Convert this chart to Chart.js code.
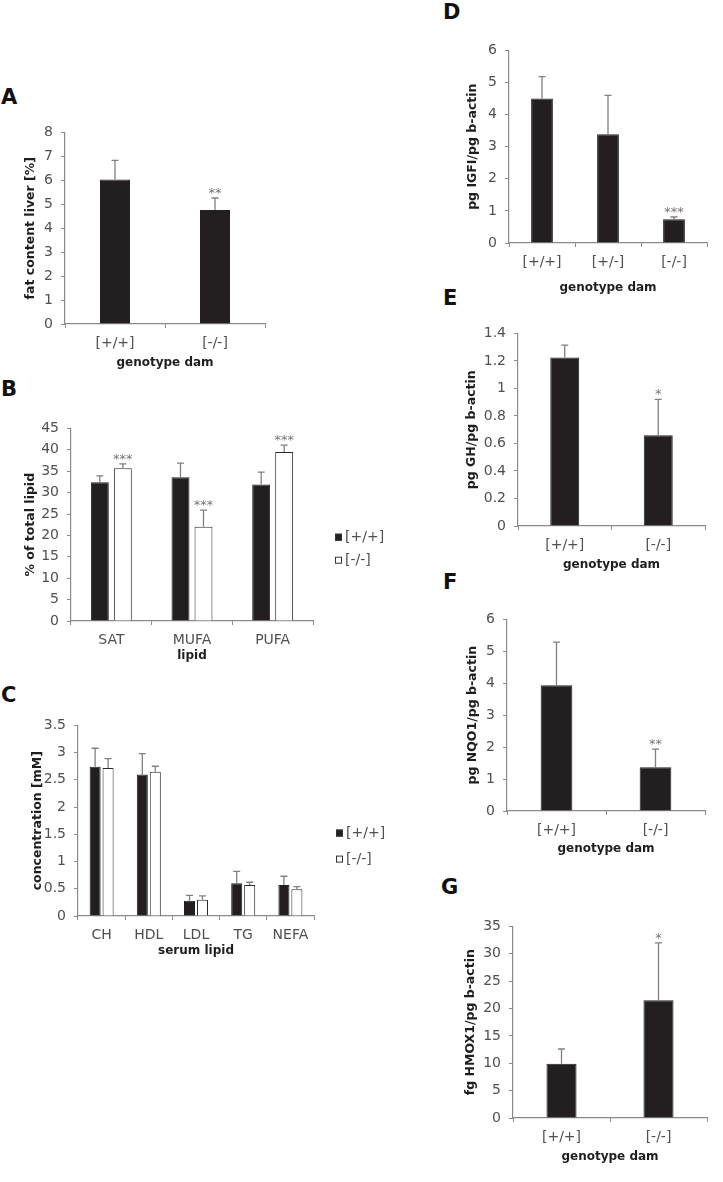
<!DOCTYPE html>
<html>
<head>
<meta charset="utf-8">
<title>Figure</title>
<script src="https://cdn.jsdelivr.net/npm/chart.js@4.4.1/dist/chart.umd.min.js"></script>
<style>
  body { margin: 0; background: #fff; width: 723px; height: 1182px; position: relative; overflow: hidden; }
  canvas { position: absolute; }
  .tag { position: absolute; font: bold 21px 'DejaVu Sans'; color: #111; line-height: 1; }
</style>
</head>
<body>
<div class="tag" style="left:1px;top:87px">A</div>
<div class="tag" style="left:1px;top:379px">B</div>
<div class="tag" style="left:1px;top:685px">C</div>
<div class="tag" style="left:443px;top:2px">D</div>
<div class="tag" style="left:443px;top:288px">E</div>
<div class="tag" style="left:443px;top:572px">F</div>
<div class="tag" style="left:441px;top:877px">G</div>
<canvas id="chartA"></canvas>
<canvas id="chartB"></canvas>
<canvas id="chartC"></canvas>
<canvas id="chartD"></canvas>
<canvas id="chartE"></canvas>
<canvas id="chartF"></canvas>
<canvas id="chartG"></canvas>
<script>
// data (mean + upper error)
var genoLabels = ['[+/+]', '[-/-]'];
var groupNames = ['[+/+]', '[-/-]'];

var fatMean = [6.03, 4.76];
var fatErr = [0.8, 0.5];
var fatStars = ['', '**'];

var lipidLabels = ['SAT', 'MUFA', 'PUFA'];
var lipidWt = [32.4, 33.6, 31.9];
var lipidWtErr = [1.5, 3.3, 2.9];
var lipidKo = [35.7, 22.0, 39.5];
var lipidKoErr = [1.0, 3.9, 1.6];
var lipidKoStars = ['***', '***', '***'];

var serumLabels = ['CH', 'HDL', 'LDL', 'TG', 'NEFA'];
var serumWt = [2.74, 2.6, 0.28, 0.6, 0.57];
var serumWtErr = [0.34, 0.38, 0.1, 0.22, 0.16];
var serumKo = [2.72, 2.65, 0.3, 0.57, 0.49];
var serumKoErr = [0.17, 0.1, 0.07, 0.05, 0.05];

var igfLabels = ['[+/+]', '[+/-]', '[-/-]'];
var igfMean = [4.5, 3.39, 0.74];
var igfErr = [0.68, 1.21, 0.07];
var igfStars = ['', '', '***'];

var ghMean = [1.225, 0.66];
var ghErr = [0.09, 0.26];
var ghStars = ['', '*'];

var nqoMean = [3.94, 1.37];
var nqoErr = [1.35, 0.57];
var nqoStars = ['', '**'];

var hmoxMean = [9.9, 21.5];
var hmoxErr = [2.7, 10.5];
var hmoxStars = ['', '*'];

var FONT = 'DejaVu Sans';
var AXIS = '#8a8a8a';
var TICK = '#505050';
var TITLE = '#1e1e1e';
var DARK = '#231f20';

var errorBars = {
  id: 'errorBars',
  afterDatasetsDraw: function(chart) {
    var ctx = chart.ctx, ys = chart.scales.y;
    chart.data.datasets.forEach(function(ds, i) {
      var meta = chart.getDatasetMeta(i);
      meta.data.forEach(function(bar, j) {
        var top = ys.getPixelForValue(ds.data[j] + ds.errors[j]);
        ctx.save();
        ctx.strokeStyle = '#808080';
        ctx.lineWidth = 1.3;
        ctx.beginPath();
        ctx.moveTo(bar.x, bar.y);
        ctx.lineTo(bar.x, top);
        ctx.moveTo(bar.x - 3.5, top);
        ctx.lineTo(bar.x + 3.5, top);
        ctx.stroke();
        if (ds.stars && ds.stars[j]) {
          ctx.fillStyle = '#777';
          ctx.font = '13px ' + FONT;
          ctx.textAlign = 'center';
          ctx.textBaseline = 'alphabetic';
          ctx.fillText(ds.stars[j], bar.x, top - 1);
        }
        ctx.restore();
      });
    });
  }
};

var sideLegend = {
  id: 'sideLegend',
  afterDraw: function(chart, args, opts) {
    var a = chart.chartArea, ctx = chart.ctx;
    chart.data.datasets.forEach(function(ds, i) {
      var cy = a.top + (a.bottom - a.top) * 0.565 + i * opts.gap;
      var x = a.right + 22;
      ctx.save();
      ctx.fillStyle = ds.backgroundColor;
      ctx.fillRect(x, cy - 3.5, 7, 7);
      ctx.strokeStyle = '#333';
      ctx.lineWidth = 1;
      ctx.strokeRect(x + 0.5, cy - 3, 6, 6);
      ctx.fillStyle = TICK;
      ctx.font = '14px ' + FONT;
      ctx.textBaseline = 'middle';
      ctx.fillText(ds.label, x + 10, cy);
      ctx.restore();
    });
  }
};

function build(id, geo, labels, datasets, yMax, yStep, yTitle, xTitle, legend) {
  var lh = 12.5 * 1.2;
  var xlh = 12 * 1.2;
  var padTop = 16;
  var x0 = Math.round(geo.yTitleX - lh / 2);
  var y0 = geo.top - padTop;
  var w = geo.right + geo.padRight - x0;
  var h = Math.round(geo.xTitleY + xlh / 2) - y0;
  var canvas = document.getElementById(id);
  canvas.width = w;
  canvas.height = h;
  canvas.style.left = x0 + 'px';
  canvas.style.top = y0 + 'px';
  var yw = geo.left - x0;
  var xh = y0 + h - geo.bottom;
  var plugins = [errorBars];
  if (legend) plugins.push(sideLegend);
  new Chart(canvas, {
    type: 'bar',
    data: { labels: labels, datasets: datasets },
    options: {
      responsive: false,
      animation: false,
      layout: { padding: { top: padTop, right: geo.padRight, left: 0, bottom: 0 } },
      plugins: {
        legend: { display: false },
        tooltip: { enabled: false },
        sideLegend: legend || {}
      },
      scales: {
        x: {
          offset: true,
          grid: { drawOnChartArea: false, offset: true, tickLength: 4, color: AXIS },
          border: { color: AXIS, width: 1.2 },
          ticks: { color: TICK, font: { family: FONT, size: 14 }, padding: 7, maxRotation: 0, autoSkip: false },
          title: { display: true, text: xTitle, color: TITLE, font: { family: FONT, size: 12, weight: 'bold' }, padding: 0 },
          afterFit: function(s) { s.height = xh; }
        },
        y: {
          min: 0,
          max: yMax,
          grid: { drawOnChartArea: false, tickLength: 4, color: AXIS },
          border: { color: AXIS, width: 1.2 },
          ticks: {
            stepSize: yStep, color: TICK, font: { family: FONT, size: 14 }, padding: 8,
            callback: function(v) { return String(Math.round(v * 100) / 100); }
          },
          title: { display: true, text: yTitle, color: TITLE, font: { family: FONT, size: 12.5, weight: 'bold' }, padding: 0 },
          afterFit: function(s) { s.width = yw; }
        }
      }
    },
    plugins: plugins
  });
}

function dark(label, data, errs, stars, barPct, catPct) {
  return { label: label, data: data, errors: errs, stars: stars, backgroundColor: DARK, borderColor: DARK,
    borderWidth: 1, barPercentage: barPct, categoryPercentage: catPct };
}
function light(label, data, errs, stars, barPct, catPct) {
  return { label: label, data: data, errors: errs, stars: stars, backgroundColor: '#ffffff', borderColor: '#2a2a2a',
    borderWidth: 1, barPercentage: barPct, categoryPercentage: catPct };
}

build('chartA', { left: 65, top: 132, right: 265, bottom: 324, yTitleX: 30, xTitleY: 363, padRight: 10 },
  genoLabels, [dark(groupNames[0], fatMean, fatErr, fatStars, 0.3, 1)],
  8, 1, 'fat content liver [%]', 'genotype dam');

build('chartB', { left: 71, top: 428, right: 313, bottom: 621, yTitleX: 30, xTitleY: 656, padRight: 80 },
  lipidLabels, [
    dark(groupNames[0], lipidWt, lipidWtErr, null, 0.78, 0.57),
    light(groupNames[1], lipidKo, lipidKoErr, lipidKoStars, 0.78, 0.57)
  ], 45, 5, '% of total lipid', 'lipid', { gap: 23 });

build('chartC', { left: 78, top: 725, right: 314, bottom: 916, yTitleX: 37, xTitleY: 951, padRight: 80 },
  serumLabels, [
    dark(groupNames[0], serumWt, serumWtErr, null, 0.85, 0.55),
    light(groupNames[1], serumKo, serumKoErr, null, 0.85, 0.55)
  ], 3.5, 0.5, 'concentration [mM]', 'serum lipid', { gap: 26 });

build('chartD', { left: 509, top: 50, right: 707, bottom: 243, yTitleX: 472, xTitleY: 288, padRight: 10 },
  igfLabels, [dark(groupNames[0], igfMean, igfErr, igfStars, 0.33, 1)],
  6, 1, 'pg IGFI/pg b-actin', 'genotype dam');

build('chartE', { left: 518, top: 333, right: 705, bottom: 526, yTitleX: 471, xTitleY: 565, padRight: 10 },
  genoLabels, [dark(groupNames[0], ghMean, ghErr, ghStars, 0.31, 1)],
  1.4, 0.2, 'pg GH/pg b-actin', 'genotype dam');

build('chartF', { left: 507, top: 619, right: 705, bottom: 811, yTitleX: 472, xTitleY: 849, padRight: 10 },
  genoLabels, [dark(groupNames[0], nqoMean, nqoErr, nqoStars, 0.32, 1)],
  6, 1, 'pg NQO1/pg b-actin', 'genotype dam');

build('chartG', { left: 513, top: 926, right: 707, bottom: 1118, yTitleX: 470, xTitleY: 1157, padRight: 10 },
  genoLabels, [dark(groupNames[0], hmoxMean, hmoxErr, hmoxStars, 0.31, 1)],
  35, 5, 'fg HMOX1/pg b-actin', 'genotype dam');
</script>
</body>
</html>
